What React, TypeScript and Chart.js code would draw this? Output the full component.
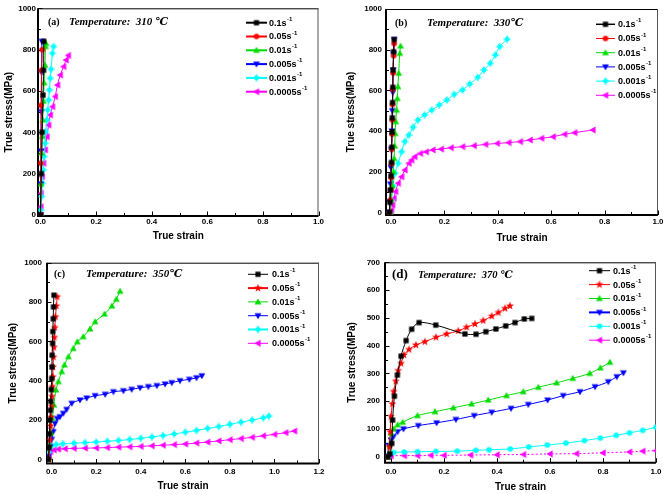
import React, { useEffect, useRef } from 'react';
import { Chart, registerables } from 'chart.js';

Chart.register(...registerables);

type Pt = [number, number];
type Shape = 'square' | 'circle' | 'triUp' | 'triDown' | 'triLeft' | 'star' | 'spiky';

// ---------- labels, colours, ticks ----------
const RATE_LABELS = ['0.1', '0.05', '0.01', '0.005', '0.001', '0.0005'];
const SERIES_COLORS = ['#000000', '#ff0000', '#00dd00', '#0000ff', '#00ffff', '#ff00ff'];
const TEMPS = ['310 \u2103', '330\u2103', '350\u2103', '370 \u2103'];
const TAGS = ['(a)', '(b)', '(c)', '(d)'];
const X_TICKS_10 = [0, 0.2, 0.4, 0.6, 0.8, 1.0];
const X_TICKS_12 = [0, 0.2, 0.4, 0.6, 0.8, 1.0, 1.2];
const Y_TICKS_1000 = [0, 200, 400, 600, 800, 1000];
const Y_TICKS_700 = [0, 100, 200, 300, 400, 500, 600, 700];

// ---------- (a) 310 C : [true strain, true stress MPa] ----------
const A_01: Pt[] = [[0, 0], [0.003, 200], [0.006, 400], [0.009, 580], [0.011, 700], [0.012, 840]];
const A_005: Pt[] = [[0, 0], [0.001, 250], [0.002, 530], [0.004, 700], [0.006, 800]];
const A_001: Pt[] = [[0, 0], [0.002, 150], [0.004, 300], [0.006, 380], [0.008, 460], [0.011, 550], [0.013, 640], [0.016, 725], [0.018, 815], [0.02, 830]];
const A_0005: Pt[] = [[0, 0], [0.001, 150], [0.002, 310], [0.003, 500], [0.004, 690], [0.005, 840]];
const A_0001: Pt[] = [[0, 0], [0.001, 24], [0.004, 89], [0.007, 153], [0.01, 218], [0.013, 282], [0.017, 347], [0.019, 403], [0.023, 460], [0.026, 508], [0.029, 556], [0.032, 605], [0.035, 661], [0.038, 705], [0.043, 782], [0.047, 815]];
const A_00005: Pt[] = [[0, 0], [0.001, 40], [0.002, 105], [0.006, 185], [0.011, 250], [0.017, 315], [0.023, 379], [0.029, 435], [0.035, 484], [0.043, 524], [0.053, 573], [0.061, 629], [0.071, 677], [0.083, 718], [0.092, 750], [0.1, 772]];

// ---------- (b) 330 C ----------
const B_01: Pt[] = [[-0.006, 0], [-0.004, 50], [-0.002, 110], [0, 180], [0.002, 245], [0.003, 320], [0.004, 395], [0.005, 465], [0.006, 540], [0.007, 615], [0.008, 700], [0.01, 790], [0.012, 850]];
const B_005: Pt[] = [[-0.005, 0], [-0.003, 60], [-0.001, 110], [0.001, 170], [0.002, 240], [0.003, 310], [0.004, 385], [0.005, 455], [0.006, 530], [0.007, 605], [0.008, 685], [0.01, 770], [0.012, 830]];
const B_001: Pt[] = [[-0.003, 0], [0.001, 60], [0.005, 130], [0.009, 200], [0.012, 265], [0.014, 326], [0.016, 388], [0.018, 446], [0.021, 503], [0.024, 560], [0.026, 618], [0.029, 684], [0.033, 782], [0.036, 818]];
const B_0005: Pt[] = [[-0.006, 0], [-0.004, 50], [-0.002, 140], [0, 220], [0.002, 310], [0.004, 400], [0.005, 500], [0.007, 590], [0.008, 700], [0.01, 780], [0.012, 850]];
const B_0001: Pt[] = [[-0.003, 0], [0.002, 60], [0.008, 130], [0.015, 192], [0.027, 241], [0.04, 298], [0.052, 348], [0.067, 380], [0.083, 418], [0.101, 454], [0.126, 479], [0.153, 503], [0.181, 528], [0.209, 552], [0.237, 580], [0.268, 602], [0.295, 631], [0.325, 664], [0.348, 700], [0.372, 733], [0.391, 774], [0.407, 815], [0.435, 851]];
const B_00005: Pt[] = [[-0.003, 0], [0.002, 10], [0.006, 36], [0.011, 69], [0.017, 102], [0.027, 143], [0.04, 175], [0.052, 208], [0.067, 241], [0.077, 257], [0.089, 274], [0.11, 290], [0.132, 298], [0.157, 307], [0.188, 311], [0.225, 318], [0.268, 323], [0.311, 328], [0.354, 334], [0.398, 339], [0.441, 343], [0.484, 348], [0.521, 356], [0.564, 364], [0.607, 372], [0.65, 384], [0.688, 392], [0.756, 405]];

// ---------- (c) 350 C ----------
const C_01: Pt[] = [[-0.015, 0], [-0.012, 60], [-0.01, 130], [-0.008, 200], [-0.006, 250], [-0.004, 295], [-0.002, 355], [0, 410], [0.001, 470], [0.002, 530], [0.004, 590], [0.005, 650], [0.007, 715], [0.008, 775], [0.01, 835]];
const C_005: Pt[] = [[-0.012, 0], [-0.008, 100], [-0.005, 170], [-0.003, 215], [-0.001, 270], [0.001, 320], [0.003, 370], [0.005, 420], [0.006, 470], [0.008, 520], [0.01, 570], [0.012, 620], [0.014, 670], [0.017, 725], [0.021, 780], [0.025, 827]];
const C_001: Pt[] = [[-0.015, 0], [-0.01, 70], [-0.004, 135], [0.003, 210], [0.01, 276], [0.019, 353], [0.03, 395], [0.045, 446], [0.057, 480], [0.075, 522], [0.097, 564], [0.115, 598], [0.142, 624], [0.172, 663], [0.195, 700], [0.237, 739], [0.27, 780], [0.29, 814], [0.307, 855]];
const C_0005: Pt[] = [[-0.018, 0], [-0.015, 14], [-0.007, 64], [0, 102], [0.007, 141], [0.015, 183], [0.025, 208], [0.037, 217], [0.052, 234], [0.067, 254], [0.09, 285], [0.127, 302], [0.157, 312], [0.195, 324], [0.24, 331], [0.277, 344], [0.322, 349], [0.359, 356], [0.397, 364], [0.434, 370], [0.472, 375], [0.509, 383], [0.539, 390], [0.576, 400], [0.618, 407], [0.65, 415], [0.674, 425]];
const C_0001: Pt[] = [[-0.018, 0], [-0.013, 35], [-0.008, 60], [0, 70], [0.02, 75], [0.05, 79], [0.1, 82], [0.15, 85], [0.2, 88], [0.25, 92], [0.3, 96], [0.35, 101], [0.4, 107], [0.45, 114], [0.5, 121], [0.55, 129], [0.6, 138], [0.65, 147], [0.7, 157], [0.75, 167], [0.8, 178], [0.85, 189], [0.9, 200], [0.95, 211], [0.975, 220]];
const C_00005: Pt[] = [[-0.018, 0], [-0.012, 25], [-0.005, 40], [0.01, 48], [0.03, 52], [0.06, 54], [0.1, 56], [0.15, 57], [0.2, 58], [0.25, 60], [0.3, 62], [0.35, 64], [0.4, 66], [0.45, 69], [0.5, 72], [0.55, 75], [0.6, 78], [0.65, 83], [0.7, 88], [0.75, 94], [0.8, 100], [0.85, 106], [0.9, 112], [0.95, 120], [1.0, 127], [1.05, 136], [1.09, 144]];

// ---------- (d) 370 C ----------
const D_01: Pt[] = [[-0.012, 0], [-0.004, 10], [0.003, 48], [0.006, 132], [0.013, 218], [0.024, 294], [0.038, 362], [0.057, 418], [0.078, 459], [0.106, 483], [0.169, 474], [0.279, 442], [0.321, 441], [0.358, 450], [0.396, 460], [0.433, 471], [0.468, 483], [0.503, 496], [0.531, 498]];
const D_005: Pt[] = [[-0.012, 0], [-0.006, 36], [-0.003, 90], [0, 145], [0.005, 190], [0.01, 235], [0.018, 272], [0.027, 310], [0.038, 336], [0.049, 366], [0.068, 386], [0.094, 402], [0.128, 414], [0.17, 430], [0.21, 442], [0.254, 453], [0.285, 466], [0.317, 478], [0.348, 490], [0.38, 506], [0.405, 519], [0.43, 534], [0.449, 543]];
const D_001: Pt[] = [[-0.012, 0], [-0.005, 40], [0, 85], [0.01, 100], [0.025, 115], [0.044, 124], [0.1, 148], [0.166, 162], [0.235, 176], [0.304, 190], [0.367, 204], [0.436, 220], [0.499, 234], [0.556, 250], [0.625, 266], [0.686, 282], [0.75, 300], [0.79, 320], [0.826, 340]];
const D_0005: Pt[] = [[-0.013, 0], [-0.008, 40], [0, 60], [0.009, 72], [0.025, 90], [0.047, 100], [0.103, 112], [0.172, 122], [0.245, 134], [0.314, 148], [0.38, 160], [0.453, 174], [0.518, 188], [0.591, 204], [0.65, 220], [0.713, 234], [0.77, 252], [0.82, 270], [0.852, 288], [0.877, 302]];
const D_0001: Pt[] = [[-0.012, 0], [-0.005, 10], [0.01, 15], [0.05, 17], [0.1, 18], [0.17, 19], [0.25, 20], [0.32, 23], [0.37, 25], [0.45, 28], [0.52, 35], [0.59, 42], [0.66, 49], [0.73, 58], [0.79, 67], [0.85, 77], [0.9, 86], [0.95, 95], [1.0, 106]];
const D_00005: Pt[] = [[-0.012, 0], [0, 3], [0.05, 4], [0.1, 4], [0.15, 5], [0.2, 5], [0.3, 6], [0.4, 7], [0.5, 8], [0.6, 10], [0.7, 11], [0.8, 14], [0.9, 17], [0.95, 20], [1.0, 22]];

// ---------- presentation ----------
const SANS = 'Arial, "Liberation Sans", sans-serif';
const SERIF = '"Times New Roman", "Liberation Serif", "DejaVu Serif", serif';

interface PanelCfg {
  left: number; top: number; w: number; h: number;
  area: { l: number; r: number; t: number; b: number };
  xMin: number; xMax: number; yMin: number; yMax: number;
  xTicks: number[]; yTicks: number[]; xMinorStep: number; yMinorStep: number;
  xTickPad: number; yTickPad: number; xTitlePad: number; yTitlePad: number;
  series: Pt[][]; shapes: Shape[]; dashes: number[][];
  tagIdx: number; tagX: number; tagY: number; tagSize: number; tempX: number; tempSize: number;
  legend: { x0: number; x1: number; tx: number; y0: number; dy: number; widths: number[] };
}

const PANELS: PanelCfg[] = [
  {
    left: 0, top: 0, w: 330, h: 250,
    area: { l: 38, r: 318.5, t: 8.3, b: 216 },
    xMin: -0.009, xMax: 1.0, yMin: -5, yMax: 1000,
    xTicks: X_TICKS_10, yTicks: Y_TICKS_1000, xMinorStep: 0.1, yMinorStep: 100,
    xTickPad: 1, yTickPad: 2, xTitlePad: 8, yTitlePad: 3.5,
    series: [A_01, A_005, A_001, A_0005, A_0001, A_00005],
    shapes: ['square', 'circle', 'triUp', 'triDown', 'spiky', 'triLeft'],
    dashes: [[], [], [], [], [], []],
    tagIdx: 0, tagX: 48, tagY: 22, tagSize: 10, tempX: 69, tempSize: 11,
    legend: { x0: 246, x1: 267, tx: 269, y0: 22.7, dy: 13.8, widths: [2, 2, 2, 2, 2, 2] },
  },
  {
    left: 330, top: 0, w: 333, h: 250,
    area: { l: 56, r: 331, t: 9, b: 215 },
    xMin: -0.0185, xMax: 1.0, yMin: -13, yMax: 1000,
    xTicks: X_TICKS_10, yTicks: Y_TICKS_1000, xMinorStep: 0.1, yMinorStep: 100,
    xTickPad: 2, yTickPad: 4, xTitlePad: 6, yTitlePad: 15.5,
    series: [B_01, B_005, B_001, B_0005, B_0001, B_00005],
    shapes: ['square', 'circle', 'triUp', 'triDown', 'spiky', 'triLeft'],
    dashes: [[], [], [], [], [], []],
    tagIdx: 1, tagX: 65, tagY: 23, tagSize: 10, tempX: 97, tempSize: 11,
    legend: { x0: 266, x1: 285, tx: 288, y0: 24.3, dy: 14.2, widths: [1.5, 1, 1, 1, 1, 1] },
  },
  {
    left: 0, top: 250, w: 330, h: 245,
    area: { l: 47, r: 319, t: 12.7, b: 213.5 },
    xMin: -0.021, xMax: 1.2, yMin: -21, yMax: 1000,
    xTicks: X_TICKS_12, yTicks: Y_TICKS_1000, xMinorStep: 0.1, yMinorStep: 100,
    xTickPad: 3.5, yTickPad: 5, xTitlePad: 3, yTitlePad: 7,
    series: [C_01, C_005, C_001, C_0005, C_0001, C_00005],
    shapes: ['square', 'star', 'triUp', 'triDown', 'spiky', 'triLeft'],
    dashes: [[], [], [], [], [], []],
    tagIdx: 2, tagX: 54, tagY: 24, tagSize: 10, tempX: 86, tempSize: 11,
    legend: { x0: 248, x1: 268, tx: 272, y0: 24.3, dy: 13.8, widths: [1, 2, 1, 1, 2, 1] },
  },
  {
    left: 330, top: 250, w: 333, h: 245,
    area: { l: 55, r: 326, t: 12.3, b: 212.7 },
    xMin: -0.0226, xMax: 1.0, yMin: -21.6, yMax: 700,
    xTicks: X_TICKS_10, yTicks: Y_TICKS_700, xMinorStep: 0.1, yMinorStep: 50,
    xTickPad: 4, yTickPad: 5, xTitlePad: 2, yTitlePad: 16.5,
    series: [D_01, D_005, D_001, D_0005, D_0001, D_00005],
    shapes: ['square', 'star', 'triUp', 'triDown', 'circle', 'triLeft'],
    dashes: [[], [], [], [], [], [2, 2]],
    tagIdx: 3, tagX: 62, tagY: 25, tagSize: 13, tempX: 88, tempSize: 10.5,
    legend: { x0: 259, x1: 280, tx: 283, y0: 20.7, dy: 13.9, widths: [1, 1, 1, 2, 1, 1] },
  },
];

function makeMarker(shape: Shape, color: string): HTMLCanvasElement {
  const S = 10;
  const c = document.createElement('canvas');
  c.width = S;
  c.height = S;
  const g = c.getContext('2d')!;
  g.translate(S / 2, S / 2);
  g.fillStyle = color;
  g.strokeStyle = color;
  g.beginPath();
  if (shape === 'square') g.rect(-2.6, -2.6, 5.2, 5.2);
  else if (shape === 'circle') g.arc(0, 0, 2.8, 0, Math.PI * 2);
  else if (shape === 'triUp') { g.moveTo(0, -3.6); g.lineTo(3.4, 2.6); g.lineTo(-3.4, 2.6); }
  else if (shape === 'triDown') { g.moveTo(0, 3.6); g.lineTo(3.4, -2.6); g.lineTo(-3.4, -2.6); }
  else if (shape === 'triLeft') { g.moveTo(-3.6, 0); g.lineTo(2.6, -3.4); g.lineTo(2.6, 3.4); }
  else if (shape === 'star') {
    for (let i = 0; i < 10; i++) {
      const r = i % 2 ? 1.7 : 4.2;
      const a = -Math.PI / 2 + (i * Math.PI) / 5;
      if (i === 0) g.moveTo(r * Math.cos(a), r * Math.sin(a));
      else g.lineTo(r * Math.cos(a), r * Math.sin(a));
    }
  } else if (shape === 'spiky') g.arc(0, 0, 2.4, 0, Math.PI * 2);
  g.closePath();
  g.fill();
  if (shape === 'spiky') {
    g.lineWidth = 1.2;
    g.beginPath();
    g.moveTo(-3.8, 0); g.lineTo(3.8, 0);
    g.moveTo(0, -3.8); g.lineTo(0, 3.8);
    g.stroke();
  }
  return c;
}

function Panel({ cfg }: { cfg: PanelCfg }) {
  const ref = useRef<HTMLCanvasElement>(null);
  useEffect(() => {
    const canvas = ref.current!;
    const markers = cfg.shapes.map((s, i) => makeMarker(s, SERIES_COLORS[i]));
    const decor = {
      id: 'decor',
      beforeDatasetsDraw(chart: any) {
        const { ctx, chartArea: a, scales } = chart;
        const xs = scales.x;
        const ys = scales.y;
        ctx.save();
        ctx.strokeStyle = '#000';
        ctx.lineWidth = 1;
        ctx.beginPath();
        ctx.moveTo(a.left, a.top + 0.5);
        ctx.lineTo(a.right, a.top + 0.5);
        ctx.stroke();
        ctx.strokeStyle = '#555';
        ctx.beginPath();
        ctx.moveTo(a.right - 0.5, a.top);
        ctx.lineTo(a.right - 0.5, a.bottom);
        ctx.stroke();
        ctx.strokeStyle = '#000';
        ctx.lineWidth = 1;
        ctx.beginPath();
        const xEnd = cfg.xTicks[cfg.xTicks.length - 1];
        for (let v = 0; v <= xEnd + 1e-9; v += cfg.xMinorStep) {
          const major = cfg.xTicks.some((t) => Math.abs(t - v) < 1e-6);
          const px = Math.round(xs.getPixelForValue(v)) + 0.5;
          ctx.moveTo(px, a.bottom);
          ctx.lineTo(px, a.bottom - (major ? 4.5 : 3));
        }
        const yEnd = cfg.yTicks[cfg.yTicks.length - 1];
        for (let v = 0; v <= yEnd + 1e-9; v += cfg.yMinorStep) {
          const major = cfg.yTicks.some((t) => Math.abs(t - v) < 1e-6);
          const py = Math.round(ys.getPixelForValue(v)) + 0.5;
          ctx.moveTo(a.left, py);
          ctx.lineTo(a.left + (major ? 4.5 : 3), py);
        }
        ctx.stroke();
        ctx.lineWidth = 2;
        ctx.beginPath();
        ctx.moveTo(a.left, a.top);
        ctx.lineTo(a.left, a.bottom + 1);
        ctx.moveTo(a.left - 1, a.bottom);
        ctx.lineTo(a.right, a.bottom);
        ctx.stroke();
        ctx.restore();
      },
      afterDraw(chart: any) {
        const { ctx } = chart;
        ctx.save();
        ctx.fillStyle = '#000';
        ctx.textBaseline = 'middle';
        ctx.textAlign = 'left';
        ctx.font = `bold ${cfg.tagSize}px ${SERIF}`;
        ctx.fillText(TAGS[cfg.tagIdx], cfg.tagX, cfg.tagY);
        ctx.font = `italic bold ${cfg.tempSize}px ${SERIF}`;
        ctx.fillText('Temperature:  ' + TEMPS[cfg.tagIdx], cfg.tempX, cfg.tagY);
        const L = cfg.legend;
        RATE_LABELS.forEach((lab, i) => {
          const y = L.y0 + i * L.dy;
          ctx.strokeStyle = SERIES_COLORS[i];
          ctx.lineWidth = L.widths[i];
          ctx.beginPath();
          ctx.moveTo(L.x0, y);
          ctx.lineTo(L.x1, y);
          ctx.stroke();
          const m = markers[i];
          ctx.drawImage(m, (L.x0 + L.x1) / 2 - m.width / 2, y - m.height / 2);
          ctx.fillStyle = '#000';
          ctx.font = `bold 9px ${SANS}`;
          const txt = lab + 's';
          ctx.fillText(txt, L.tx, y + 0.5);
          const w = ctx.measureText(txt).width;
          ctx.font = `bold 6px ${SANS}`;
          ctx.fillText('-1', L.tx + w + 0.5, y - 3.5);
        });
        ctx.restore();
      },
    };

    const chart = new Chart(canvas, {
      type: 'line',
      data: {
        datasets: cfg.series.map((pts, i) => ({
          label: RATE_LABELS[i],
          data: pts.map(([x, y]) => ({ x, y })),
          borderColor: SERIES_COLORS[i],
          backgroundColor: SERIES_COLORS[i],
          borderWidth: 1,
          borderDash: cfg.dashes[i],
          pointStyle: markers[i] as any,
          pointRadius: 3,
          tension: 0.3,
          fill: false,
        })),
      },
      options: {
        responsive: false,
        animation: false,
        events: [],
        layout: { padding: { left: 0, top: cfg.area.t, right: cfg.w - cfg.area.r, bottom: 0 } },
        plugins: { legend: { display: false }, tooltip: { enabled: false } },
        scales: {
          x: {
            type: 'linear',
            min: cfg.xMin,
            max: cfg.xMax,
            afterBuildTicks: (s: any) => { s.ticks = cfg.xTicks.map((v) => ({ value: v })); },
            afterFit: (s: any) => { s.height = cfg.h - cfg.area.b; s.paddingLeft = 0; s.paddingRight = 0; },
            grid: { display: false, drawTicks: false },
            border: { display: false },
            ticks: {
              color: '#000', padding: cfg.xTickPad, maxRotation: 0, autoSkip: false,
              font: { family: SANS, size: 8, weight: 'bold' },
              callback: (v: any) => Number(v).toFixed(1),
            },
            title: {
              display: true, text: 'True strain', color: '#000',
              font: { family: SANS, size: 10, weight: 'bold' },
              padding: { top: 0, bottom: cfg.xTitlePad },
            },
          },
          y: {
            type: 'linear',
            min: cfg.yMin,
            max: cfg.yMax,
            afterBuildTicks: (s: any) => { s.ticks = cfg.yTicks.map((v) => ({ value: v })); },
            afterFit: (s: any) => { s.width = cfg.area.l; s.paddingTop = 0; s.paddingBottom = 0; },
            grid: { display: false, drawTicks: false },
            border: { display: false },
            ticks: {
              color: '#000', padding: cfg.yTickPad, autoSkip: false,
              font: { family: SANS, size: 8, weight: 'bold' },
              callback: (v: any) => String(v),
            },
            title: {
              display: true, text: 'True stress(MPa)', color: '#000',
              font: { family: SANS, size: 10, weight: 'bold' },
              padding: { top: cfg.yTitlePad, bottom: 0 },
            },
          },
        },
      } as any,
      plugins: [decor],
    });
    return () => chart.destroy();
  }, [cfg]);
  return (
    <canvas
      ref={ref}
      width={cfg.w}
      height={cfg.h}
      style={{ position: 'absolute', left: cfg.left, top: cfg.top, width: cfg.w, height: cfg.h }}
    />
  );
}

export default function App() {
  return (
    <div style={{ position: 'fixed', left: 0, top: 0, width: 663, height: 495, background: '#fff', overflow: 'hidden' }}>
      {PANELS.map((p, i) => (
        <Panel key={i} cfg={p} />
      ))}
    </div>
  );
}
